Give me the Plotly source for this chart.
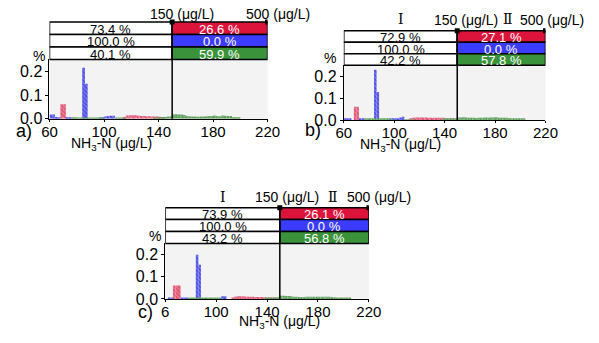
import plotly.graph_objects as go

W, H = 599, 343

# ---- summary tables: share of samples below / above 150 µg/L ----
rows_I_a = [73.4, 100.0, 40.1]
rows_II_a = [26.6, 0.0, 59.9]
rows_I_b = [72.9, 100.0, 42.2]
rows_II_b = [27.1, 0.0, 57.8]
rows_I_c = [73.9, 100.0, 43.2]
rows_II_c = [26.1, 0.0, 56.8]

# ---- histograms (bin centres, 2 µg/L bins) ----
red_a_x = [69, 71, 115, 117, 119, 121, 123, 125, 127, 129, 131, 133, 135, 137, 139, 141, 143]
red_a_y = [0.061, 0.061, 0.008, 0.014, 0.015, 0.015, 0.015, 0.014, 0.012, 0.012, 0.011, 0.011,
           0.010, 0.010, 0.010, 0.009, 0.008]
blue_a_x = [61, 63, 65, 67, 73, 75, 85, 87, 97, 99, 101, 103, 105, 107]
blue_a_y = [0.018, 0.018, 0.008, 0.006, 0.008, 0.006, 0.215, 0.147, 0.004, 0.006, 0.010, 0.012,
            0.013, 0.013]
green_a_x = [77, 79, 81, 83, 85, 87, 89, 91, 93, 95, 97, 99, 109, 111, 113, 115,
             137, 139, 141, 143, 145, 147, 149, 151, 153, 155, 157, 159, 161, 163, 165, 167,
             169, 171, 173, 175, 177, 179, 181, 183, 185, 187, 189, 191, 193, 195, 197, 199]
green_a_y = [0.006, 0.006, 0.005, 0.005, 0.005, 0.005, 0.005, 0.004, 0.004, 0.004, 0.003, 0.003,
             0.003, 0.003, 0.003, 0.003,
             0.004, 0.005, 0.006, 0.008, 0.008, 0.010, 0.010, 0.018, 0.019, 0.018, 0.018, 0.016,
             0.012, 0.011, 0.010, 0.010, 0.009, 0.010, 0.010, 0.011, 0.012, 0.012, 0.014, 0.012,
             0.011, 0.014, 0.013, 0.012, 0.012, 0.007, 0.006, 0.006]

red_b_x = [69, 71, 113, 115, 117, 119, 121, 123, 125, 127, 129, 131, 133, 135, 137, 139, 141, 143, 145, 147]
red_b_y = [0.061, 0.061, 0.008, 0.010, 0.012, 0.012, 0.012, 0.012, 0.012, 0.011, 0.011, 0.011,
           0.010, 0.010, 0.010, 0.010, 0.009, 0.008, 0.008, 0.006]
blue_b_x = [61, 63, 65, 73, 75, 85, 87, 97, 99, 101, 103, 105, 107]
blue_b_y = [0.008, 0.008, 0.006, 0.005, 0.005, 0.230, 0.128, 0.004, 0.005, 0.006, 0.008, 0.012, 0.015]
green_b_x = [77, 79, 81, 83, 85, 87, 89, 91, 93, 95, 97, 99, 109, 111, 113, 115,
             139, 141, 143, 145, 147, 149, 151, 153, 155, 157, 159, 161, 163, 165, 167, 169,
             171, 173, 175, 177, 179, 181, 183, 185, 187, 189, 191, 193, 195, 197, 199, 201, 203]
green_b_y = [0.005, 0.005, 0.005, 0.005, 0.005, 0.005, 0.004, 0.004, 0.004, 0.004, 0.003, 0.003,
             0.003, 0.003, 0.003, 0.003,
             0.004, 0.005, 0.006, 0.006, 0.008, 0.008, 0.012, 0.012, 0.013, 0.012, 0.011, 0.010,
             0.010, 0.009, 0.010, 0.010, 0.011, 0.012, 0.011, 0.012, 0.012, 0.013, 0.011, 0.011,
             0.010, 0.010, 0.009, 0.008, 0.007, 0.006, 0.005, 0.004, 0.004]

red_c_x = [67, 69, 71, 113, 115, 117, 119, 121, 123, 125, 127, 129, 131, 133, 135, 137, 139, 141, 143, 145, 147]
red_c_y = [0.060, 0.060, 0.060, 0.006, 0.010, 0.012, 0.012, 0.012, 0.011, 0.010, 0.010, 0.010,
           0.009, 0.009, 0.009, 0.008, 0.008, 0.008, 0.007, 0.006, 0.006]
blue_c_x = [63, 65, 73, 75, 77, 85, 87, 105, 107]
blue_c_y = [0.004, 0.004, 0.003, 0.003, 0.003, 0.199, 0.154, 0.012, 0.012]
green_c_x = [79, 81, 83, 85, 87, 89, 91, 93, 95, 97, 99, 101, 103,
             139, 141, 143, 145, 147, 149, 151, 153, 155, 157, 159, 161, 163, 165, 167, 169,
             171, 173, 175, 177, 179, 181, 183, 185, 187, 189, 191, 193, 195, 197, 199, 201, 203, 205]
green_c_y = [0.004, 0.004, 0.004, 0.004, 0.004, 0.004, 0.004, 0.003, 0.003, 0.003, 0.003, 0.003, 0.003,
             0.004, 0.005, 0.006, 0.007, 0.008, 0.008, 0.014, 0.014, 0.013, 0.013, 0.012, 0.010,
             0.010, 0.009, 0.009, 0.009, 0.010, 0.010, 0.010, 0.010, 0.010, 0.010, 0.010, 0.010,
             0.010, 0.010, 0.009, 0.008, 0.006, 0.005, 0.004, 0.004, 0.004, 0.004]

x_ticks = [60, 100, 140, 180, 220]
x_ticktext_ab = ["60", "100", "140", "180", "220"]
x_ticktext_c = ["6", "100", "140", "180", "220"]

RED, BLUE, GREEN = "#DC143C", "#3C3CFF", "#3A933A"
SANS = "Liberation Sans, Arial, sans-serif"
SERIF = "DejaVu Serif, Liberation Serif, serif"

# bar look: (line colour, background tint, hatch shape)
styles = [("#D0103A", "#EE98AC", "\\"),
          ("#0C0CE0", "#9090F0", "\\"),
          ("#106810", "#98C898", "+")]

# panel geometry in pixels: plot left/right, plot top/bottom, table top,
# and centres of the free-standing labels
panels = [
    dict(key="a", x0=43, x1=269, top=61, bot=122, ttop=22.7,
         rI=rows_I_a, rII=rows_II_a, ticktext=x_ticktext_ab,
         series=[(red_a_x, red_a_y), (blue_a_x, blue_a_y), (green_a_x, green_a_y)],
         lab=(17, 135), pct=(32, 58), xt=(107, 148),
         lim_y=14.5, lim=(180, 280), roman=None),
    dict(key="b", x0=348, x1=557, top=67, bot=123.3, ttop=31.7,
         rI=rows_I_b, rII=rows_II_b, ticktext=x_ticktext_ab,
         series=[(red_b_x, red_b_y), (blue_b_x, blue_b_y), (green_b_x, green_b_y)],
         lab=(316, 134), pct=(334, 60), xt=(407, 149),
         lim_y=21, lim=(475, 564), roman=(407.5, 518, 19.5)),
    dict(key="c", x0=163, x1=374, top=250, bot=307, ttop=213.3,
         rI=rows_I_c, rII=rows_II_c, ticktext=x_ticktext_c,
         series=[(red_c_x, red_c_y), (blue_c_x, blue_c_y), (green_c_x, green_c_y)],
         lab=(143, 320), pct=(152, 242), xt=(281, 331),
         lim_y=202.5, lim=(289, 384), roman=(222.5, 337, 202)),
]


def fx(p):
    return p / W


def fy(p):
    return 1 - p / H


def label(x, y, text, size, color="black", family=SANS, xref="paper"):
    return dict(xref=xref, yref="paper", x=x, y=y, text=text, showarrow=False,
                xanchor="center", yanchor="middle",
                font=dict(size=size, color=color, family=family))


fig = go.Figure()
layout = dict(width=W, height=H, margin=dict(l=0, r=0, t=0, b=0),
              paper_bgcolor="white", plot_bgcolor="#F3F3F3", showlegend=False,
              barmode="overlay", font=dict(family=SANS, color="black"))
shapes, annotations = [], []

for i, p in enumerate(panels):
    n = "" if i == 0 else str(i + 1)
    xa, ya = "x" + n, "y" + n
    for (xs, ys), (fg, bg, shp) in zip(p["series"], styles):
        fig.add_trace(go.Bar(
            x=xs, y=ys, width=2, xaxis=xa, yaxis=ya,
            marker=dict(color=bg, line=dict(width=0),
                        pattern=dict(shape=shp, fgcolor=fg, size=3, solidity=0.75)),
        ))
    layout["xaxis" + n] = dict(
        domain=[fx(p["x0"]), fx(p["x1"])], anchor=ya, range=[60, 220],
        tickvals=x_ticks, ticktext=p["ticktext"], ticks="outside", ticklen=2,
        tickcolor="black", showline=True, linecolor="black", linewidth=1,
        showgrid=False, zeroline=False, ticklabelstandoff=-3,
        tickfont=dict(size=15, family=SANS))
    layout["yaxis" + n] = dict(
        domain=[fy(p["bot"]), fy(p["top"])], anchor=xa, range=[0, 0.25],
        tickvals=[0, 0.1, 0.2], tickformat=".1f", ticks="outside", ticklen=3,
        tickcolor="black", showline=True, linecolor="black", linewidth=1,
        showgrid=False, zeroline=False, tickfont=dict(size=16, family=SANS))

    # three-row table above the plot
    rh = (p["top"] - p["ttop"]) / 3
    fills = [RED, BLUE, GREEN]
    for r in range(3):
        yt, yb = p["ttop"] + r * rh, p["ttop"] + (r + 1) * rh
        shapes.append(dict(type="rect", xref=xa, yref="paper", x0=60, x1=150,
                           y0=fy(yb), y1=fy(yt), fillcolor="white",
                           line=dict(color="black", width=1.5), layer="above"))
        shapes.append(dict(type="rect", xref=xa, yref="paper", x0=150, x1=220,
                           y0=fy(yb), y1=fy(yt), fillcolor=fills[r],
                           line=dict(color="black", width=1.5), layer="above"))
        ymid = fy((yt + yb) / 2 + 1.2)
        annotations.append(label(105, ymid, f"{p['rI'][r]:.1f} %", 13, xref=xa))
        annotations.append(label(185, ymid, f"{p['rII'][r]:.1f} %", 13, color="white", xref=xa))
    # 150 µg/L threshold line
    shapes.append(dict(type="line", xref=xa, yref="paper", x0=150, x1=150,
                       y0=fy(p["bot"]), y1=fy(p["ttop"]),
                       line=dict(color="black", width=1.5), layer="above"))
    for xv in (150, 220):
        shapes.append(dict(type="rect", xref=xa, yref="paper", xsizemode="pixel",
                           ysizemode="pixel", xanchor=xv, yanchor=fy(p["ttop"]),
                           x0=-2.5, x1=2.5, y0=-2.5, y1=2.5, fillcolor="black",
                           line=dict(width=0), layer="above"))
    annotations.append(label(fx(p["lim"][0]), fy(p["lim_y"]), "150 (μg/L)", 14))
    annotations.append(label(fx(p["lim"][1]), fy(p["lim_y"]), "500 (μg/L)", 14))
    if p["roman"]:
        rx1, rx2, ry = p["roman"]
        annotations.append(label(fx(rx1), fy(ry), "Ⅰ", 14, family=SERIF))
        annotations.append(label(fx(rx2), fy(ry), "Ⅱ", 14, family=SERIF))
    annotations.append(label(fx(p["pct"][0]), fy(p["pct"][1]), "%", 14))
    annotations.append(label(fx(p["lab"][0]), fy(p["lab"][1]), p["key"] + ")", 18))
    annotations.append(label(fx(p["xt"][0]), fy(p["xt"][1]), "NH<sub>3</sub>-N (μg/L)", 14))

layout["shapes"] = shapes
layout["annotations"] = annotations
fig.update_layout(**layout)
fig.write_html("out.html")
